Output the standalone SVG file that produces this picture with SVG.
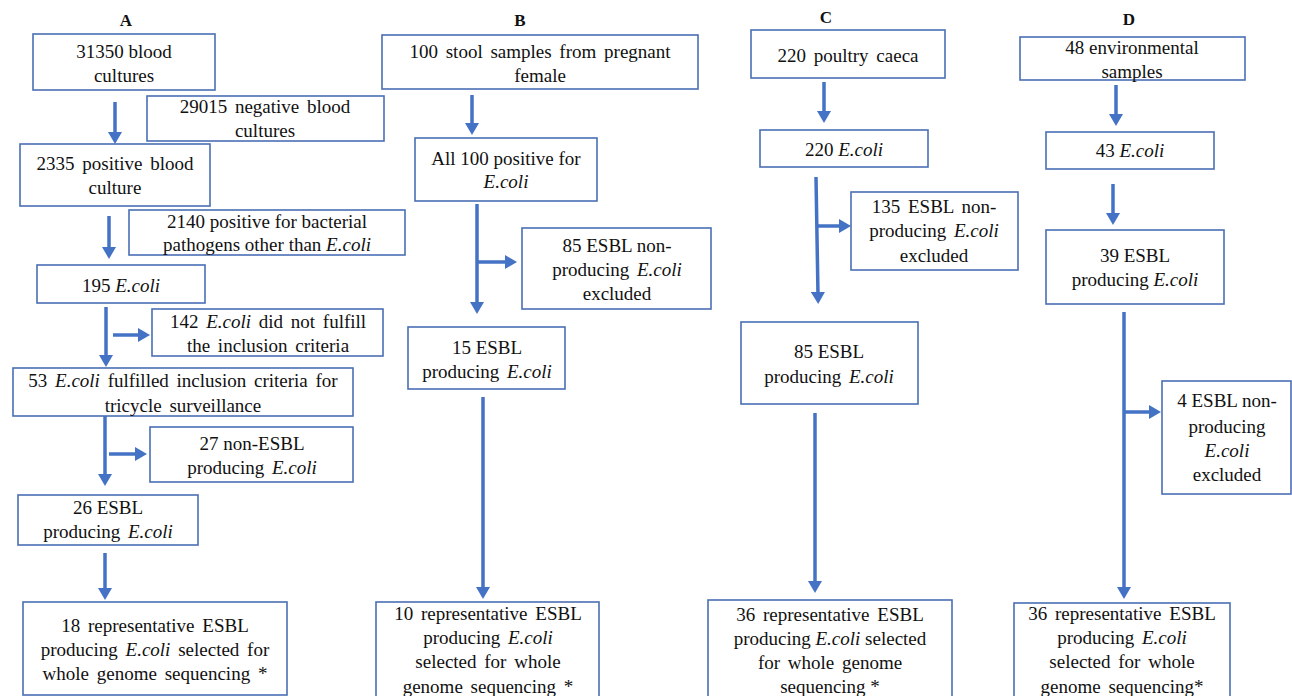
<svg xmlns="http://www.w3.org/2000/svg" width="1292" height="696" viewBox="0 0 1292 696">
<style>
.bg{fill:#ffffff}
.box{fill:#ffffff;stroke:#4a6fb5;stroke-width:1.6}
.t{font-family:'Liberation Serif','Times New Roman',serif;font-size:19px;fill:#111111;text-anchor:middle}
.h{font-family:'Liberation Serif','Times New Roman',serif;font-size:17px;font-weight:bold;fill:#111111;text-anchor:middle}
.i{font-style:italic}
.w{word-spacing:3px}
.c{stroke:#4472c4;stroke-width:3.5;fill:none;marker-end:url(#ah)}
</style>
<defs>
<marker id="ah" markerUnits="userSpaceOnUse" markerWidth="13" markerHeight="14" viewBox="0 0 12 14" refX="3" refY="7" orient="auto">
<path d="M0,0 L12,7 L0,14 z" fill="#4472c4"/>
</marker>
</defs>
<rect class="bg" x="0" y="0" width="1292" height="696"/>

<g id="titles">
<text class="h" x="126" y="26">A</text>
<text class="h" x="520" y="26">B</text>
<text class="h" x="826" y="23">C</text>
<text class="h" x="1129" y="25">D</text>
</g>

<g id="connectors">
<line class="c" x1="115" y1="102" x2="115" y2="135"/>
<line class="c" x1="109" y1="216" x2="109" y2="250"/>
<line class="c" x1="106" y1="307" x2="106" y2="358"/>
<line class="c" x1="113" y1="335" x2="141" y2="335"/>
<line class="c" x1="105" y1="416" x2="105" y2="477"/>
<line class="c" x1="109" y1="454" x2="138" y2="454"/>
<line class="c" x1="105" y1="553" x2="105" y2="591"/>

<line class="c" x1="472" y1="95" x2="472" y2="126"/>
<line class="c" x1="477" y1="204" x2="477" y2="305"/>
<line class="c" x1="477" y1="262" x2="508" y2="262"/>
<line class="c" x1="483" y1="397" x2="483" y2="590"/>

<line class="c" x1="824" y1="82" x2="824" y2="114"/>
<line class="c" x1="816" y1="177" x2="818" y2="295"/>
<line class="c" x1="817" y1="226" x2="842" y2="226"/>
<line class="c" x1="815" y1="413" x2="815" y2="584"/>

<line class="c" x1="1116" y1="85" x2="1116" y2="117"/>
<line class="c" x1="1113" y1="184" x2="1113" y2="216"/>
<line class="c" x1="1124" y1="312" x2="1124" y2="590"/>
<line class="c" x1="1124" y1="412" x2="1152" y2="412"/>
</g>

<g id="a1"><rect class="box" x="33" y="34" width="182" height="56"/>
<text class="t" x="124" y="58">31350 blood</text><text class="t" x="124" y="82">cultures</text></g>
<g id="a2"><rect class="box" x="147" y="96" width="237" height="45"/>
<text class="t w" x="265" y="113">29015 negative blood</text><text class="t" x="265" y="137">cultures</text></g>
<g id="a3"><rect class="box" x="20" y="144" width="190" height="62"/>
<text class="t w" x="115" y="170">2335 positive blood</text><text class="t" x="115" y="194">culture</text></g>
<g id="a4"><rect class="box" x="129" y="210" width="276" height="45"/>
<text class="t" x="267" y="228">2140 positive for bacterial</text><text class="t" x="267" y="251">pathogens other than <tspan class="i">E.coli</tspan></text></g>
<g id="a5"><rect class="box" x="37" y="265" width="168" height="38"/>
<text class="t" x="121" y="292">195 <tspan class="i">E.coli</tspan></text></g>
<g id="a6"><rect class="box" x="152" y="309" width="231" height="47"/>
<text class="t w" x="268" y="328">142 <tspan class="i">E.coli</tspan> did not fulfill</text><text class="t w" x="268" y="352">the inclusion criteria</text></g>
<g id="a7"><rect class="box" x="13" y="368" width="340" height="48"/>
<text class="t w" x="183" y="387">53 <tspan class="i">E.coli</tspan> fulfilled inclusion criteria for</text><text class="t w" x="183" y="412">tricycle surveillance</text></g>
<g id="a8"><rect class="box" x="150" y="427" width="203" height="55"/>
<text class="t" x="252" y="450">27 non-ESBL</text><text class="t w" x="252" y="474">producing <tspan class="i">E.coli</tspan></text></g>
<g id="a9"><rect class="box" x="18" y="495" width="180" height="50"/>
<text class="t" x="108" y="514">26 ESBL</text><text class="t w" x="108" y="538">producing  <tspan class="i">E.coli</tspan></text></g>
<g id="a10"><rect class="box" x="23" y="602" width="264" height="93"/>
<text class="t w" x="155" y="632">18 representative ESBL</text><text class="t w" x="155" y="656">producing  <tspan class="i">E.coli</tspan> selected for</text><text class="t w" x="155" y="680">whole genome sequencing *</text></g>

<g id="b1"><rect class="box" x="382" y="35" width="316" height="54"/>
<text class="t w" x="540" y="58">100 stool samples from pregnant</text><text class="t" x="540" y="82">female</text></g>
<g id="b2"><rect class="box" x="415" y="138" width="182" height="63"/>
<text class="t" x="506" y="165">All 100 positive for</text><text class="t" x="506" y="188"><tspan class="i">E.coli</tspan></text></g>
<g id="b3"><rect class="box" x="522" y="228" width="189" height="81"/>
<text class="t" x="617" y="252">85 ESBL non-</text><text class="t w" x="617" y="276">producing <tspan class="i">E.coli</tspan></text><text class="t" x="617" y="300">excluded</text></g>
<g id="b4"><rect class="box" x="408" y="327" width="157" height="62"/>
<text class="t" x="487" y="354">15 ESBL</text><text class="t w" x="487" y="378">producing <tspan class="i">E.coli</tspan></text></g>
<g id="b5"><rect class="box" x="376" y="602" width="223" height="96"/>
<text class="t w" x="488" y="620">10 representative ESBL</text><text class="t w" x="488" y="644">producing  <tspan class="i">E.coli</tspan></text><text class="t w" x="488" y="668">selected for whole</text><text class="t w" x="488" y="693">genome sequencing *</text></g>

<g id="c1"><rect class="box" x="751" y="30" width="194" height="48"/>
<text class="t w" x="848" y="62">220 poultry caeca</text></g>
<g id="c2"><rect class="box" x="760" y="130" width="168" height="37"/>
<text class="t" x="844" y="156">220 <tspan class="i">E.coli</tspan></text></g>
<g id="c3"><rect class="box" x="851" y="192" width="167" height="78"/>
<text class="t w" x="934" y="213">135 ESBL non-</text><text class="t w" x="934" y="237">producing <tspan class="i">E.coli</tspan></text><text class="t" x="934" y="262">excluded</text></g>
<g id="c4"><rect class="box" x="741" y="322" width="177" height="82"/>
<text class="t" x="829" y="358">85 ESBL</text><text class="t w" x="829" y="383">producing <tspan class="i">E.coli</tspan></text></g>
<g id="c5"><rect class="box" x="708" y="600" width="244" height="98"/>
<text class="t w" x="830" y="621">36 representative ESBL</text><text class="t" x="830" y="645">producing <tspan class="i">E.coli</tspan> selected</text><text class="t w" x="830" y="669">for whole genome</text><text class="t" x="830" y="693">sequencing *</text></g>

<g id="d1"><rect class="box" x="1020" y="37" width="225" height="43"/>
<text class="t" x="1132" y="54">48 environmental</text><text class="t" x="1132" y="78">samples</text></g>
<g id="d2"><rect class="box" x="1046" y="132" width="168" height="37"/>
<text class="t" x="1130" y="157">43 <tspan class="i">E.coli</tspan></text></g>
<g id="d3"><rect class="box" x="1046" y="230" width="178" height="74"/>
<text class="t" x="1135" y="262">39 ESBL</text><text class="t" x="1135" y="286">producing <tspan class="i">E.coli</tspan></text></g>
<g id="d4"><rect class="box" x="1162" y="381" width="129" height="113"/>
<text class="t" x="1227" y="407">4 ESBL non-</text><text class="t" x="1227" y="433">producing</text><text class="t" x="1227" y="457"><tspan class="i">E.coli</tspan></text><text class="t" x="1227" y="481">excluded</text></g>
<g id="d5"><rect class="box" x="1014" y="603" width="216" height="95"/>
<text class="t w" x="1122" y="620">36 representative ESBL</text><text class="t w" x="1122" y="644">producing <tspan class="i">E.coli</tspan></text><text class="t w" x="1122" y="668">selected for whole</text><text class="t w" x="1122" y="693">genome sequencing*</text></g>
</svg>
